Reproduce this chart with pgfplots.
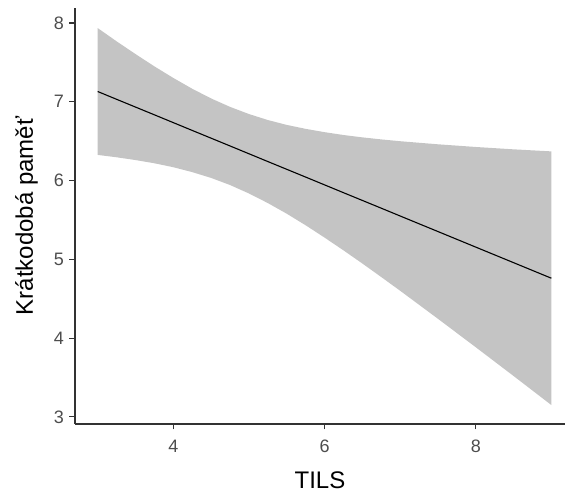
\documentclass[border=0pt]{standalone}
\usepackage{fontspec}
\setmainfont{Liberation Sans}
\usepackage{pgfplots}
\pgfplotsset{compat=1.18}
\usepgfplotslibrary{fillbetween}
\definecolor{bandgray}{RGB}{196,196,196}
\definecolor{axisgray}{RGB}{51,51,51}
\definecolor{labelgray}{RGB}{77,77,77}

% x, fitted line, lower and upper 95% limits
\pgfplotstableread{
x     fit     lo     hi
3.00  7.130   6.325  7.935
3.25  7.031   6.295  7.767
3.50  6.9325  6.260  7.605
3.75  6.834   6.219  7.449
4.00  6.735   6.169  7.302
4.25  6.636   6.107  7.165
4.50  6.5375  6.033  7.042
4.75  6.439   5.943  6.935
5.00  6.340   5.836  6.844
5.25  6.241   5.714  6.768
5.50  6.1425  5.579  6.706
5.75  6.044   5.432  6.656
6.00  5.945   5.276  6.614
6.25  5.846   5.114  6.578
6.50  5.7475  4.947  6.548
6.75  5.649   4.775  6.522
7.00  5.550   4.601  6.499
7.50  5.3525  4.245  6.460
8.00  5.155   3.884  6.426
8.50  4.9575  3.519  6.396
9.00  4.760   3.150  6.370
}\fitdata

\begin{document}
\begin{tikzpicture}
\begin{axis}[
    scale only axis,
    width=490pt, height=416pt,
    xmin=2.7, xmax=9.18,
    ymin=2.91, ymax=8.19,
    axis lines=left,
    axis line style={-, line width=1.1pt, color=axisgray},
    xtick={4,6,8},
    ytick={3,4,5,6,7,8},
    tick align=outside,
    major tick length=5.5pt,
    tick style={line width=1.1pt, color=axisgray},
    /pgf/number format/assume math mode=true,
    tick label style={font=\fontsize{18}{20}\selectfont, color=labelgray},
    xticklabel style={yshift=-7pt},
    yticklabel style={xshift=-2pt},
    label style={font=\fontsize{24}{26}\selectfont, color=black},
    xlabel={TILS},
    ylabel={Krátkodobá paměť},
    xlabel style={at={(axis description cs:0.5,-0.154)}, anchor=base, inner sep=1pt},
    ylabel style={at={(axis description cs:-0.086,0.5)}, anchor=base, rotate=0},
    clip=false,
]
\addplot[name path=hi, draw=none, forget plot] table[x=x, y=hi] {\fitdata};
\addplot[name path=lo, draw=none, forget plot] table[x=x, y=lo] {\fitdata};
\addplot[bandgray, draw=none] fill between[of=hi and lo];
\addplot[black, line width=1.1pt] table[x=x, y=fit] {\fitdata};
\end{axis}
\pgfresetboundingbox
\path (-75pt,-70pt) rectangle (490pt,424pt);
\end{tikzpicture}
\end{document}
